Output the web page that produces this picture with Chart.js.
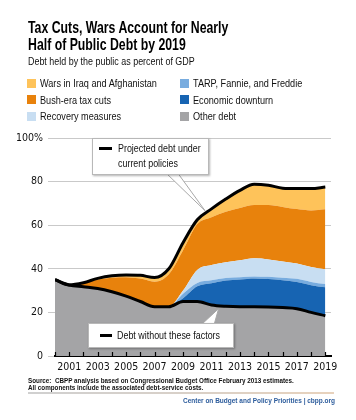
<!DOCTYPE html>
<html><head><meta charset="utf-8">
<script src="https://cdn.jsdelivr.net/npm/chart.js@4.4.1/dist/chart.umd.min.js"></script>
<style>
html,body{margin:0;padding:0;background:#fff;}
#wrap{position:relative;width:356px;height:420px;overflow:hidden;font-family:"Liberation Sans",Arial,sans-serif;color:#111;}
canvas{position:absolute;left:0;top:0;}
.t{position:absolute;white-space:nowrap;transform-origin:0 0;}
#title{left:28px;top:19px;font-weight:bold;font-size:16.5px;line-height:17px;transform:scaleX(0.745);color:#000;}
#sub{left:28px;top:55px;font-size:10.5px;line-height:13px;transform:scaleX(0.85);}
.lg{position:absolute;white-space:nowrap;}
.lg i{position:absolute;left:-13px;top:1.5px;width:9px;height:9px;}
.lg span{position:absolute;left:0;top:0;font-size:11px;line-height:12px;transform:scaleX(0.83);transform-origin:0 0;}
.box{position:absolute;background:#fff;border:1px solid #b8b8b8;box-shadow:1px 1px 2px rgba(0,0,0,.3);font-size:11px;line-height:15px;white-space:nowrap;}
.box b{position:absolute;height:3px;background:#000;}
.box span{position:absolute;transform:scaleX(0.81);transform-origin:0 0;}
#src{left:28px;top:378px;font-size:6.3px;line-height:6.6px;font-weight:bold;}
#sep{position:absolute;left:28px;top:392px;width:306px;height:2px;background:linear-gradient(90deg,#d0d0d0,#d8d0c8,#e8d2bc);}
#cred{left:183px;top:397px;font-size:6.5px;font-weight:bold;color:#2c5c9c;}
</style></head>
<body>
<div id="wrap">
<canvas id="c" width="356" height="420"></canvas>
<div class="t" id="title">Tax Cuts, Wars Account for Nearly<br>Half of Public Debt by 2019</div>
<div class="t" id="sub">Debt held by the public as percent of GDP</div>
<div id="legend"></div>
<div class="box" style="left:92px;top:138px;width:115px;height:35px;">
  <b style="left:6px;top:8px;width:13px;"></b>
  <span style="left:25px;top:2px;">Projected debt under</span>
  <span style="left:25px;top:17px;">current policies</span>
</div>
<div class="box" style="left:88px;top:323px;width:144px;height:23px;">
  <b style="left:11px;top:10px;width:12px;"></b>
  <span style="left:28px;top:4px;">Debt without these factors</span>
</div>
<div class="t" id="src">Source:&nbsp; CBPP analysis based on Congressional Budget Office February 2013 estimates.<br>All components include the associated debt-service costs.</div>
<div id="sep"></div>
<div class="t" id="cred">Center on Budget and Policy Priorities | cbpp.org</div>
</div>
<script>
// ---- data (percent of GDP, layer thickness) ----
const years    = [2000,2001,2002,2003,2004,2005,2006,2007,2008,2009,2010,2011,2012,2013,2014,2015,2016,2017,2018,2019];
const other    = [35,32.6,31.8,31,29.5,27.5,25,22.6,22.6,25,25,23.4,22.8,22.6,22.6,22.5,22.2,21.7,20,18.5];
const downturn = [0,0,0,0,0,0,0,0,0,1.5,7,10,11.8,12.5,13,12.8,12.5,12.2,12.5,13];
const tarp     = [0,0,0,0,0,0,0,0,0,2,1.5,1.3,1.2,1,0.9,1,1.2,1.5,1.5,1.5];
const recovery = [0,0,0,0,0,0,0,0,0,1.5,6,7,7.2,7.8,8.3,8,7.5,7,6.8,6.8];
const taxcuts  = [0,0,1.8,4.1,6.4,8.6,10.5,11.5,14.9,18.5,21,22,23.2,24,24.5,25,25,25,26,27.5];
const wars     = [0,0,0,0.5,0.9,1.1,1.5,1.9,2.5,3.5,2,3.8,5.8,8.1,9.5,9,8.6,9.4,10,10.2];
const yTicks   = [0,20,40,60,80,100];
const xLabelYears = [2001,2003,2005,2007,2009,2011,2013,2015,2017,2019];

const colors = {
  wars:'#fec35a', taxcuts:'#e8820c', recovery:'#c8def2',
  tarp:'#78acdf', downturn:'#1764b2', other:'#a4a4a6'
};
const legendItems = [
  ['Wars in Iraq and Afghanistan', colors.wars, 0, 0],
  ['Bush-era tax cuts', colors.taxcuts, 0, 1],
  ['Recovery measures', colors.recovery, 0, 2],
  ['TARP, Fannie, and Freddie', colors.tarp, 1, 0],
  ['Economic downturn', colors.downturn, 1, 1],
  ['Other debt', colors.other, 1, 2]
];
const lg = document.getElementById('legend');
legendItems.forEach(([txt,col,c,r])=>{
  const d=document.createElement('div');
  d.className='lg';
  d.style.left=(c?193:40)+'px';
  d.style.top=(77+r*16.5)+'px';
  d.innerHTML='<i style="background:'+col+'"></i><span>'+txt+'</span>';
  lg.appendChild(d);
});

const pts = arr => years.map((y,i)=>({x:y,y:arr[i]}));
const area = (label,arr,col,fill,border) => ({
  label, data:pts(arr), backgroundColor:col, fill,
  borderColor: border ? '#000' : 'rgba(0,0,0,0)', borderWidth: border ? 3 : 0,
  pointRadius:0, cubicInterpolationMode:'monotone'
});

const FONT = '"DejaVu Sans Condensed","Liberation Sans",sans-serif';

const extras = {
  id:'extras',
  afterDraw(chart){
    const ctx=chart.ctx, xs=chart.scales.x, a=chart.chartArea;
    ctx.save();
    ctx.strokeStyle='#000'; ctx.lineWidth=1.2;
    years.forEach(y=>{
      const x=Math.round(xs.getPixelForValue(y))+0.5;
      ctx.beginPath(); ctx.moveTo(x,a.bottom-4); ctx.lineTo(x,a.bottom); ctx.stroke();
    });
    const top=chart.getDatasetMeta(5).data, bot=chart.getDatasetMeta(0).data;
    const t1={x:top[10].x+0.55*(top[11].x-top[10].x), y:top[10].y+0.55*(top[11].y-top[10].y)-3};
    const t2={x:bot[11].x+0.5*(bot[12].x-bot[11].x), y:bot[11].y+0.5*(bot[12].y-bot[11].y)+3};
    const wedge=(b1,b2,tip)=>{
      ctx.beginPath(); ctx.moveTo(b1[0],b1[1]); ctx.lineTo(tip.x,tip.y); ctx.lineTo(b2[0],b2[1]); ctx.closePath();
      ctx.fillStyle='#fff'; ctx.fill();
      ctx.strokeStyle='#a8a8a8'; ctx.lineWidth=1;
      ctx.beginPath(); ctx.moveTo(b1[0],b1[1]); ctx.lineTo(tip.x,tip.y); ctx.lineTo(b2[0],b2[1]); ctx.stroke();
    };
    wedge([165,172],[177,172],t1);
    wedge([201,325],[214,325],t2);
    ctx.restore();
  }
};

new Chart(document.getElementById('c'), {
  type:'line',
  data:{ datasets:[
    area('Other debt', other, colors.other, 'origin', true),
    area('Economic downturn', downturn, colors.downturn, '-1', false),
    area('TARP, Fannie, and Freddie', tarp, colors.tarp, '-1', false),
    area('Recovery measures', recovery, colors.recovery, '-1', false),
    area('Bush-era tax cuts', taxcuts, colors.taxcuts, '-1', false),
    area('Wars in Iraq and Afghanistan', wars, colors.wars, '-1', true)
  ]},
  options:{
    responsive:false, animation:false, events:[],
    layout:{padding:{left:0,right:25,top:138,bottom:40}},
    plugins:{legend:{display:false}, tooltip:{enabled:false}, filler:{drawTime:'beforeDatasetsDraw'}},
    scales:{
      x:{ type:'linear', min:2000, max:2019.4, z:1,
          afterFit(s){ s.height=24; },
          afterBuildTicks(s){ s.ticks = years.map(v=>({value:v})); },
          ticks:{ autoSkip:false, maxRotation:0, padding:5, color:'#111',
                  font:{family:FONT,size:10.5},
                  callback:v=> xLabelYears.includes(v) ? String(v) : '' },
          grid:{display:false, drawTicks:false},
          border:{display:true,color:'#000',width:2} },
      y:{ stacked:true, min:0, max:100,
          afterFit(s){ s.width=55; },
          afterBuildTicks(s){ s.ticks = yTicks.map(v=>({value:v})); },
          ticks:{ padding:5, color:'#111', font:{family:FONT,size:10.5},
                  callback:v=> v===100 ? '100%' : String(v) },
          grid:{color:'#c9c9c9', lineWidth:1, tickLength:7, drawTicks:true, tickColor:'#c9c9c9'},
          border:{display:false} }
    }
  },
  plugins:[extras]
});
</script>
</body></html>
